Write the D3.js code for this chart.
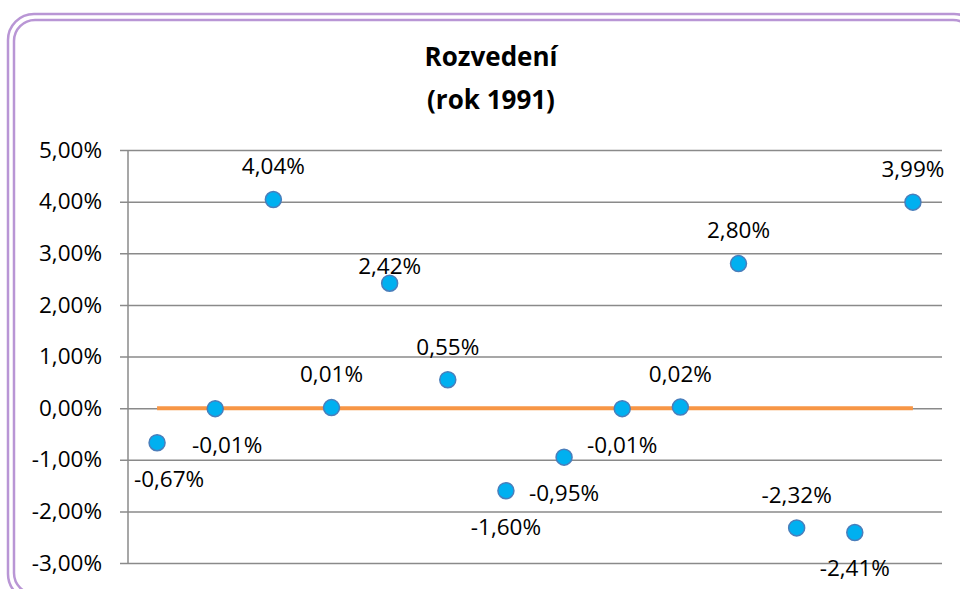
<!DOCTYPE html>
<html>
<head>
<meta charset="utf-8">
<script src="https://cdnjs.cloudflare.com/ajax/libs/d3/7.8.5/d3.min.js"></script>
<style>
    body { margin: 0; background: #ffffff; overflow: hidden; }
    svg { display: block; font-family: "Open Sans", "Liberation Sans", sans-serif; }
</style>
</head>
<body>
<svg></svg>
<script>
// hodnoty z grafu (rok 1991)
var categories = [1, 2, 3, 4, 5, 6, 7, 8, 9, 10, 11, 12, 13, 14];
var values = [-0.67, -0.01, 4.04, 0.01, 2.42, 0.55, -1.60, -0.95, -0.01, 0.02, 2.80, -2.32, -2.41, 3.99];
var trend = [0, 0, 0, 0, 0, 0, 0, 0, 0, 0, 0, 0, 0, 0];
var yTicks = [-3, -2, -1, 0, 1, 2, 3, 4, 5];
var labelPlace = ["belowRight", "belowRight", "above", "above", "aboveNear", "above", "below",
                  "below", "below", "above", "above", "above", "below", "above"];
var titleLines = ["Rozvedení", "(rok 1991)"];

var screen = {width: 960, height: 589};
var margins = {top: 150, right: 18, bottom: 26, left: 128};

var fmt = function(v)
{
    return d3.format(".2f")(v).replace(".", ",").replace("−", "-") + "%";
}

var placement = {
    above: {dx: 0, dy: -33},
    aboveNear: {dx: 0, dy: -17},
    below: {dx: 0, dy: 36},
    belowRight: {dx: 12, dy: 36}
};

var setup = function()
{
    var svg = d3.select("svg")
        .attr("width", screen.width)
        .attr("height", screen.height);

    // dvojity ramecek
    svg.append("rect")
        .attr("x", 8).attr("y", 14)
        .attr("width", 972).attr("height", 586)
        .attr("rx", 26).attr("ry", 26)
        .attr("fill", "none")
        .attr("stroke", "#b996d5")
        .attr("stroke-width", 2.5);
    svg.append("rect")
        .attr("x", 14).attr("y", 20)
        .attr("width", 960).attr("height", 574)
        .attr("rx", 21).attr("ry", 21)
        .attr("fill", "none")
        .attr("stroke", "#b996d5")
        .attr("stroke-width", 2.5);

    svg.append("g")
        .attr("id", "title")
        .selectAll("text")
        .data(titleLines)
        .enter()
        .append("text")
        .attr("x", 491)
        .attr("y", function(d, i) { return 66 + i * 43; })
        .attr("text-anchor", "middle")
        .attr("font-weight", "bold")
        .attr("font-size", 26)
        .attr("fill", "#000")
        .text(function(d) { return d; });

    var width = screen.width - margins.left - margins.right;
    var height = screen.height - margins.top - margins.bottom;

    var xScale = d3.scaleBand()
        .domain(categories)
        .range([0, width]);

    var yScale = d3.scaleLinear()
        .domain([-3, 5])
        .range([height, 0]);

    var graph = svg.append("g")
        .attr("id", "graph1")
        .attr("transform", "translate(" + margins.left + "," + margins.top + ")");

    // mrizka
    var yAxis = d3.axisLeft(yScale)
        .tickValues(yTicks)
        .tickSize(-width)
        .tickPadding(18)
        .tickFormat(fmt);

    var axisG = graph.append("g")
        .attr("id", "yAxis")
        .call(yAxis);
    axisG.select(".domain").remove();
    axisG.selectAll(".tick line")
        .attr("x1", -8)
        .attr("stroke", "#8a8a8a")
        .attr("stroke-width", 1.5);
    axisG.selectAll(".tick text")
        .attr("font-size", 22.5)
        .attr("font-family", "\"Open Sans\", sans-serif")
        .attr("fill", "#000")
        .attr("x", -26);

    graph.append("line")
        .attr("x1", 0).attr("x2", 0)
        .attr("y1", 0).attr("y2", height)
        .attr("stroke", "#8a8a8a")
        .attr("stroke-width", 1.5);

    draw(graph, xScale, yScale);
}

var draw = function(graph, xScale, yScale)
{
    var cx = function(d, i) { return xScale(categories[i]) + xScale.bandwidth() / 2; };

    var lineGenerator = d3.line()
        .x(cx)
        .y(function(d) { return yScale(d); });

    graph.append("path")
        .datum(trend)
        .attr("d", lineGenerator)
        .attr("fill", "none")
        .attr("stroke", "#f79646")
        .attr("stroke-width", 4);

    graph.selectAll("circle")
        .data(values)
        .enter()
        .append("circle")
        .attr("cx", cx)
        .attr("cy", function(d) { return yScale(d); })
        .attr("r", 8)
        .attr("fill", "#00b0f0")
        .attr("stroke", "#4a7ebb")
        .attr("stroke-width", 1.5);

    graph.selectAll(".label")
        .data(values)
        .enter()
        .append("text")
        .attr("class", "label")
        .attr("x", function(d, i) { return cx(d, i) + placement[labelPlace[i]].dx; })
        .attr("y", function(d, i) { return yScale(d) + placement[labelPlace[i]].dy; })
        .attr("dy", "0.35em")
        .attr("text-anchor", "middle")
        .attr("font-size", 22.5)
        .attr("fill", "#000")
        .text(fmt);
}

setup();
</script>
</body>
</html>
